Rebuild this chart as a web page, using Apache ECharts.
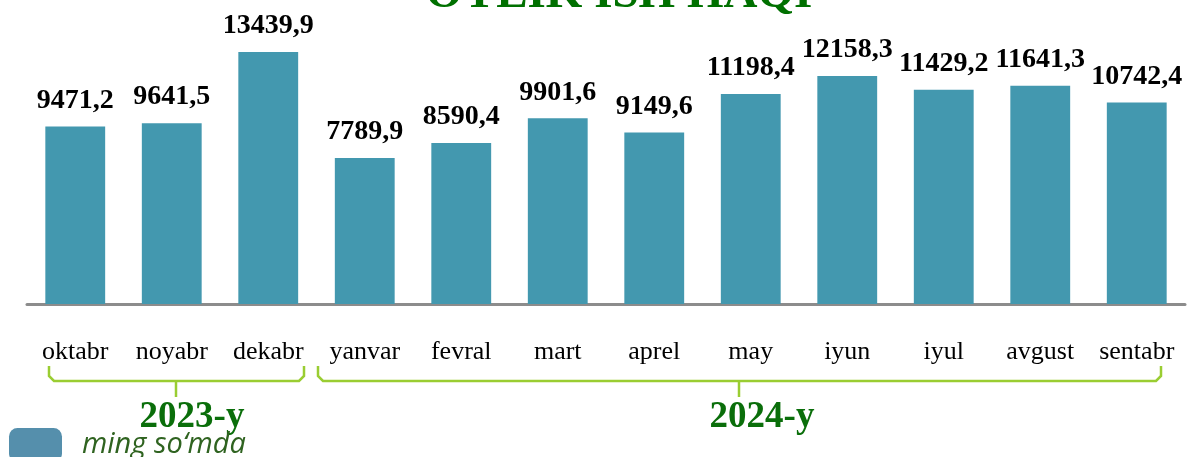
<!DOCTYPE html>
<html>
<head>
<meta charset="utf-8">
<script src="https://cdn.jsdelivr.net/npm/echarts@6/dist/echarts.min.js"></script>
<style>
  html, body { margin: 0; padding: 0; background: #fff; }
  #chart { width: 1189px; height: 457px; }
</style>
</head>
<body>
<div id="chart"></div>
<script>
// oylik ish haqi, ming so'mda
const months = ['oktabr', 'noyabr', 'dekabr', 'yanvar', 'fevral', 'mart',
  'aprel', 'may', 'iyun', 'iyul', 'avgust', 'sentabr'];
const salary = [9471.2, 9641.5, 13439.9, 7789.9, 8590.4, 9901.6,
  9149.6, 11198.4, 12158.3, 11429.2, 11641.3, 10742.4];
const years = ['2023-y', '2024-y'];
const unitLabel = 'ming so\u2018mda';
const title = 'OYLIK ISH HAQI';

const chart = echarts.init(document.getElementById('chart'));

const fmt = v => v.toFixed(1).replace('.', ',');

const bracketColor = '#9acd32';
const yearColor = '#0a6e0a';

// qavs: chap, o'ng, o'rta x
const brackets = [
  { l: 49, r: 304, mid: 176, text: years[0], tx: 192 },
  { l: 318, r: 1161, mid: 739, text: years[1], tx: 762 }
];

const graphics = [];
brackets.forEach(b => {
  graphics.push({
    type: 'polyline',
    silent: true,
    shape: { points: [[b.l, 366], [b.l, 376], [b.l + 5, 381], [b.r - 5, 381], [b.r, 376], [b.r, 366]] },
    style: { stroke: bracketColor, lineWidth: 2.5, fill: null }
  });
  graphics.push({
    type: 'line',
    silent: true,
    shape: { x1: b.mid, y1: 381, x2: b.mid, y2: 397 },
    style: { stroke: bracketColor, lineWidth: 2.5 }
  });
  graphics.push({
    type: 'text',
    silent: true,
    style: {
      x: b.tx, y: 417, text: b.text, align: 'center', verticalAlign: 'middle',
      font: 'bold 37px "Liberation Serif"', fill: yearColor
    }
  });
});

graphics.push({
  type: 'text',
  silent: true,
  style: {
    x: 619, y: -5, text: title, align: 'center', verticalAlign: 'middle',
    font: 'bold 47px "Liberation Serif"', fill: '#007000'
  }
});

chart.setOption({
  animation: false,
  grid: { left: 27, right: 4, top: 4, bottom: 153 },
  legend: {
    left: 4, top: 423,
    icon: 'roundRect',
    itemWidth: 53, itemHeight: 34,
    itemGap: 20,
    data: [{ name: unitLabel, itemStyle: { color: '#558fac' } }],
    textStyle: {
      fontFamily: '"Open Sans"', fontStyle: 'italic', fontSize: 29,
      color: '#2f6320', padding: [3, 0, 0, 15]
    }
  },
  xAxis: {
    type: 'category',
    data: months,
    axisLine: { lineStyle: { color: '#8c8c8c', width: 3 } },
    axisTick: { show: false },
    axisLabel: {
      margin: 35, color: '#000', fontSize: 26,
      fontFamily: '"Liberation Serif"', interval: 0
    }
  },
  yAxis: {
    type: 'value', min: 0, max: 16000,
    show: false, splitLine: { show: false }
  },
  series: [{
    name: unitLabel,
    type: 'bar',
    data: salary,
    barWidth: '62%',
    itemStyle: { color: '#4398af' },
    label: {
      show: true, position: 'top', distance: 12,
      formatter: p => fmt(p.value),
      fontFamily: '"Liberation Serif"', fontWeight: 'bold', fontSize: 28, color: '#000'
    }
  }],
  graphic: graphics
});
</script>
</body>
</html>
